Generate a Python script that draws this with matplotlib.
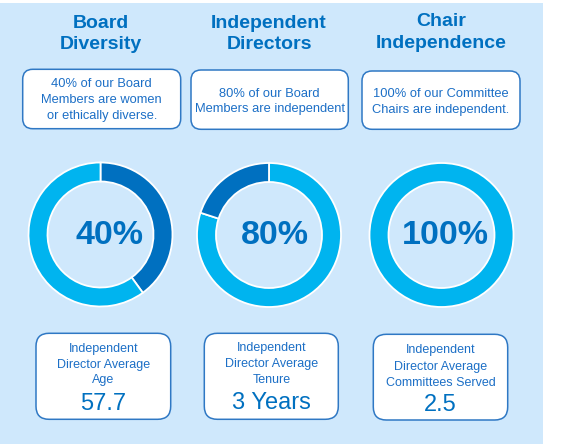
import matplotlib
matplotlib.use("Agg")
import matplotlib.pyplot as plt
from matplotlib.patches import Rectangle, FancyBboxPatch

plt.rcParams['font.family'] = ['Liberation Sans', 'DejaVu Sans']

# datos del grafico
titles = ["Board\nDiversity", "Independent\nDirectors", "Chair\nIndependence"]
pct_values = [40, 80, 100]
descriptions = ["40% of our Board\nMembers are women\nor ethically diverse.",
                "80% of our Board\nMembers are independent",
                "100% of our Committee\nChairs are independent."]
stat_labels = ["Independent\nDirector Average\nAge",
               "Independent\nDirector Average\nTenure",
               "Independent\nDirector Average\nCommittees Served"]
stat_values = ["57.7", "3 Years", "2.5"]

BG = '#CFE8FC'
DARK = '#0070C0'
LIGHT = '#00B4EF'
TXT = '#1C6FC6'
EDGE = '#2F78C4'

# colores de cada anillo (el original no es consistente)
ring_colors = [[DARK, LIGHT], [LIGHT, DARK], [LIGHT]]

# posiciones en pixeles (y hacia abajo)
centers = [(100.5, 234.5), (269, 235), (441.5, 235)]
title_base = [(27.5, 49), (27.5, 49), (26.3, 48)]
desc_boxes = [(22.7, 69.3, 158, 59.4), (191, 70, 157.3, 59.3), (362, 71, 158, 58.3)]
desc_base = [[87, 103, 119], [96.7, 112.3], [97.3, 113.3]]
stat_boxes = [(36, 333.3, 134.7, 86), (204.3, 333.3, 134, 86), (373.3, 334.3, 134.4, 85.7)]
stat_base = [[352.3, 367.8, 383.3, 410], [351, 367.3, 383.3, 409], [353.3, 370, 386, 411]]
pct_offset = [8.5, 6, 4]

fig = plt.figure(figsize=(5.63, 4.44), dpi=100)
ax = fig.add_axes([0, 0, 1, 1])

ax.add_patch(Rectangle((0, 3), 543, 441, facecolor=BG, edgecolor='none', zorder=0))

for i in range(3):
    cx, cy = centers[i]
    shares = [pct_values[i], 100 - pct_values[i]]
    shares = [s for s in shares if s > 0]
    # eje y invertido: startangle=-90 apunta arriba y el sentido queda horario
    ax.pie(shares, colors=ring_colors[i], center=(cx, cy), radius=72,
           startangle=-90, counterclock=True, frame=True,
           wedgeprops=dict(width=19, edgecolor='white', linewidth=1.3))
    ax.text(cx + pct_offset[i], cy + 0.5, f"{pct_values[i]}%", ha='center', va='center',
            fontsize=24.5, fontweight='bold', color=DARK)

    # titulo
    for line, yb in zip(titles[i].split('\n'), title_base[i]):
        ax.text(cx, yb, line, ha='center', va='baseline', fontsize=14,
                fontweight='bold', color=DARK)

    # caja de descripcion
    x, y, w, h = desc_boxes[i]
    ax.add_patch(FancyBboxPatch((x, y), w, h, boxstyle="round,pad=0,rounding_size=10",
                                facecolor='white', edgecolor=EDGE, linewidth=1.1))
    for line, yb in zip(descriptions[i].split('\n'), desc_base[i]):
        ax.text(x + w / 2, yb, line, ha='center', va='baseline', fontsize=9.3, color=TXT)

    # caja de estadistica
    x, y, w, h = stat_boxes[i]
    ax.add_patch(FancyBboxPatch((x, y), w, h, boxstyle="round,pad=0,rounding_size=13",
                                facecolor='white', edgecolor=EDGE, linewidth=1.1))
    lines = stat_labels[i].split('\n')
    for line, yb in zip(lines, stat_base[i][:3]):
        ax.text(x + w / 2, yb, line, ha='center', va='baseline', fontsize=9, color=TXT)
    ax.text(x + w / 2, stat_base[i][3], stat_values[i], ha='center', va='baseline',
            fontsize=17, color=DARK)

ax.set_xlim(0, 563)
ax.set_ylim(444, 0)
ax.set_aspect('equal')
ax.axis('off')

fig.savefig('out.png', dpi=100, facecolor='white')
